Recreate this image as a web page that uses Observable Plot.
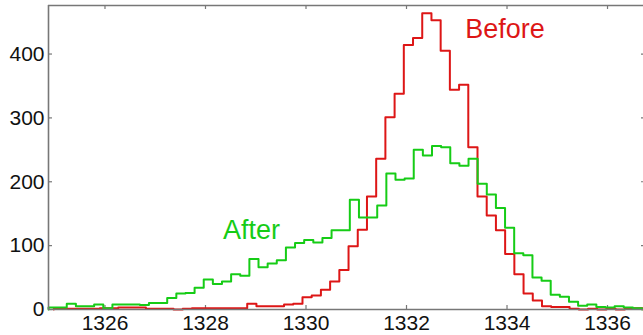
<!DOCTYPE html>
<html>
<head>
<meta charset="utf-8">
<script src="https://cdn.jsdelivr.net/npm/d3@7"></script>
<script src="https://cdn.jsdelivr.net/npm/@observablehq/plot@0.6"></script>
<style>
  html, body { margin: 0; padding: 0; background: #fff; }
  #chart svg { display: block; }
</style>
</head>
<body>
<div id="chart"></div>
<script>
// Histogram counts per bin (uniform bins), before and after the correction.
const beforeCounts = [
  2, 1, 1, 1, 1, 2, 2, 3, 3, 3,
  1, 1, 1, 0, 1, 2, 2, 2, 2, 2,
  2, 9, 5, 5, 5, 8, 9, 19, 22, 31,
  44, 62, 99, 125, 177, 236, 301, 338, 414, 425,
  464, 453, 405, 344, 352, 254, 177, 147, 124, 87,
  55, 25, 14, 5, 4, 4, 1, 0, 1, 0,
  1, 0, 1, 2
];
const afterCounts = [
  3, 3, 9, 5, 5, 8, 2, 8, 8, 8,
  7, 10, 10, 18, 25, 26, 34, 47, 40, 44,
  55, 53, 79, 66, 72, 77, 97, 104, 109, 105,
  112, 124, 124, 172, 144, 144, 163, 213, 203, 205,
  250, 241, 256, 254, 229, 225, 236, 197, 180, 159,
  128, 88, 85, 50, 45, 23, 20, 12, 6, 8,
  4, 3, 5, 3, 2
];
// Bin layout: left edge of the first bin and bin width, in x units.
const beforeBins = {start: 1324.981, width: 0.1833};
const afterBins = {start: 1324.876, width: 0.1817};

const xDomain = [1324.876, 1336.716];
const yDomain = [0, 476];
const xTicks = [1326, 1328, 1330, 1332, 1334, 1336];
const yTicks = [0, 100, 200, 300, 400];

const seriesLabels = [
  {text: "Before", x: 1333.17, y: 425, color: "#dd1616"},
  {text: "After", x: 1328.35, y: 111, color: "#16cc16"}
];

// Turn counts into the outline of a step histogram (down to zero at both ends).
function outline(counts, bins) {
  const pts = [{x: bins.start, y: 0}];
  counts.forEach((c, i) => pts.push({x: bins.start + i * bins.width, y: c}));
  const end = bins.start + counts.length * bins.width;
  pts.push({x: end, y: counts[counts.length - 1]});
  pts.push({x: end, y: 0});
  return pts;
}

const W = 643, H = 335;
const M = {top: 5, right: 0, bottom: 26, left: 48};
const innerW = W - M.left - M.right;
const innerH = H - M.top - M.bottom;
const spine = "#777";
const tickLen = 4;

const chart = Plot.plot({
  width: W,
  height: H,
  marginTop: M.top,
  marginRight: M.right,
  marginBottom: M.bottom,
  marginLeft: M.left,
  style: {fontFamily: "'Liberation Sans', Arial, sans-serif", fontSize: "21px", color: "#111", background: "#fff", overflow: "visible"},
  x: {domain: xDomain, ticks: xTicks, tickSize: 0, tickPadding: 6, tickFormat: d => String(d), label: null},
  y: {domain: yDomain, ticks: yTicks, tickSize: 0, tickPadding: 4, tickFormat: d => String(d), label: null},
  marks: [
    // inward tick marks on all four sides
    Plot.tickX(xTicks, {x: d => d, insetTop: innerH - tickLen, stroke: spine, strokeWidth: 1.2}),
    Plot.tickX(xTicks, {x: d => d, insetBottom: innerH - tickLen, stroke: spine, strokeWidth: 1.2}),
    Plot.tickY(yTicks, {y: d => d, insetRight: innerW - tickLen, stroke: spine, strokeWidth: 1.2}),
    Plot.tickY(yTicks, {y: d => d, insetLeft: innerW - 2, stroke: spine, strokeWidth: 1.2}),
    Plot.line(outline(beforeCounts, beforeBins), {x: "x", y: "y", curve: "step-after", stroke: "#dd1616", strokeWidth: 2}),
    Plot.line(outline(afterCounts, afterBins), {x: "x", y: "y", curve: "step-after", stroke: "#16cc16", strokeWidth: 2}),
    // axes box (left, bottom, top)
    Plot.ruleX([xDomain[0]], {stroke: spine, strokeWidth: 1.6}),
    Plot.ruleY([yDomain[0], yDomain[1]], {stroke: spine, strokeWidth: 1.6}),
    Plot.text(seriesLabels, {x: "x", y: "y", text: "text", fill: "color", textAnchor: "start", lineAnchor: "bottom", fontSize: 27})
  ]
});

document.getElementById("chart").appendChild(chart);
</script>
</body>
</html>
